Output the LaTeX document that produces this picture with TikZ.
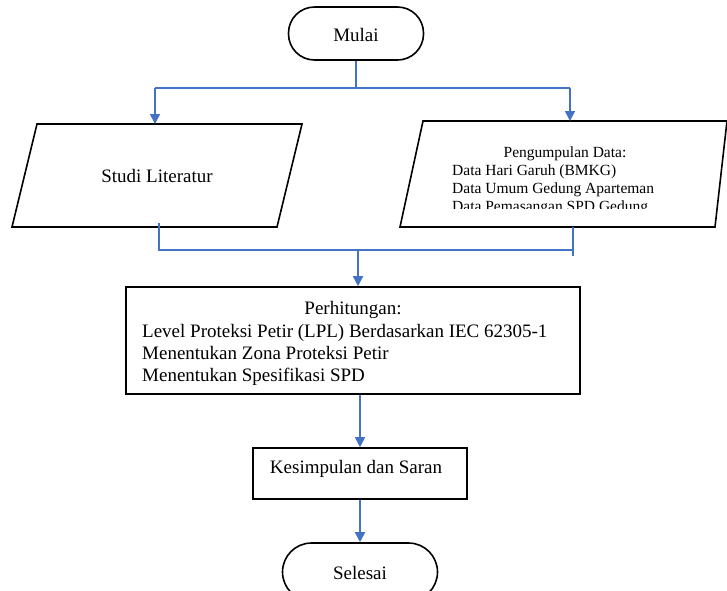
\documentclass[tikz,border=0pt]{standalone}
\usepackage{fontspec}
\setmainfont{Liberation Serif}
\usetikzlibrary{arrows.meta}
\definecolor{conn}{HTML}{4472C4}
\tikzset{
  outline/.style={draw=black, line width=1.6pt},
  termbox/.style={outline, rectangle, inner sep=0pt},
  procbox/.style={outline, rectangle, inner sep=0pt},
  big/.style={font=\fontsize{19}{22}\selectfont, inner sep=0pt},
  small/.style={font=\fontsize{15.5}{18}\selectfont, inner sep=0pt},
  link/.style={draw=conn, line width=1.6pt},
  arrowlink/.style={link, -{Triangle[width=10pt,length=10pt]}},
}
\begin{document}
\begin{tikzpicture}[x=1pt,y=-1pt]
\useasboundingbox (0,0) rectangle (727,590);
\clip (0,0) rectangle (727,590);
% Mulai
\node[termbox, rounded corners=26pt, minimum width=135pt, minimum height=53pt] (mulai) at (356,33.5) {};
\node[big] (mulaitxt) at (356,35) {Mulai};
% left parallelogram
\coordinate (sl1) at (37,124);
\coordinate (sl2) at (302,124);
\coordinate (sl3) at (277,227);
\coordinate (sl4) at (12,227);
\draw[outline] (sl1) -- (sl2) -- (sl3) -- (sl4) -- cycle;
\node[big] (studi) at (157,176) {Studi Literatur};
% right parallelogram
\coordinate (pd1) at (423,121);
\coordinate (pd2) at (727,121);
\coordinate (pd3) at (715,227);
\coordinate (pd4) at (400,227);
\draw[outline] (pd1) -- (pd2) -- (pd3) -- (pd4) -- cycle;
\begin{scope}
\clip (420,125) rectangle (715,208);
\node[small, anchor=base] (pdt0) at (565,157) {Pengumpulan Data:};
\node[small, anchor=base west] (pdt1) at (452,175) {Data Hari Garuh (BMKG)};
\node[small, anchor=base west] (pdt2) at (452,193) {Data Umum Gedung Aparteman};
\node[small, anchor=base west] (pdt3) at (452,211) {Data Pemasangan SPD Gedung};
\end{scope}
% Perhitungan
\node[procbox, minimum width=454pt, minimum height=107pt] (hitung) at (353,340.5) {};
\node[big, anchor=base] (h0) at (353,314) {Perhitungan:};
\node[big, anchor=base west] (h1) at (142,337) {Level Proteksi Petir (LPL) Berdasarkan IEC 62305-1};
\node[big, anchor=base west] (h2) at (142,359) {Menentukan Zona Proteksi Petir};
\node[big, anchor=base west] (h3) at (142,381) {Menentukan Spesifikasi SPD};
% Kesimpulan
\node[procbox, minimum width=214pt, minimum height=51pt] (kes) at (360,473.5) {};
\node[big] (kestxt) at (356,469) {Kesimpulan dan Saran};
% Selesai
\node[termbox, rounded corners=29pt, minimum width=155pt, minimum height=58pt] (selesai) at (360,572) {};
\node[big] (seltxt) at (360,573) {Selesai};
% connectors
\coordinate (split) at (356,88);
\coordinate (splitL) at (155,88);
\coordinate (splitR) at (570,88);
\draw[link] (mulai.south) -- (split);
\draw[link] (splitL) -- (splitR);
\draw[arrowlink] (splitL) -- (155,124);
\draw[arrowlink] (splitR) -- (570,121);
\coordinate (joinL) at (159,250);
\coordinate (joinR) at (573,250);
\coordinate (joinM) at (358,250);
\draw[link] (159,223) -- (joinL) -- (joinR);
\draw[link] (573,227) -- (573,256);
\draw[arrowlink] (joinM) -- (hitung.north -| joinM);
\draw[arrowlink] (hitung.south -| kes.north) -- (kes.north);
\draw[arrowlink] (kes.south) -- (kes.south |- selesai.north);
\end{tikzpicture}
\end{document}
